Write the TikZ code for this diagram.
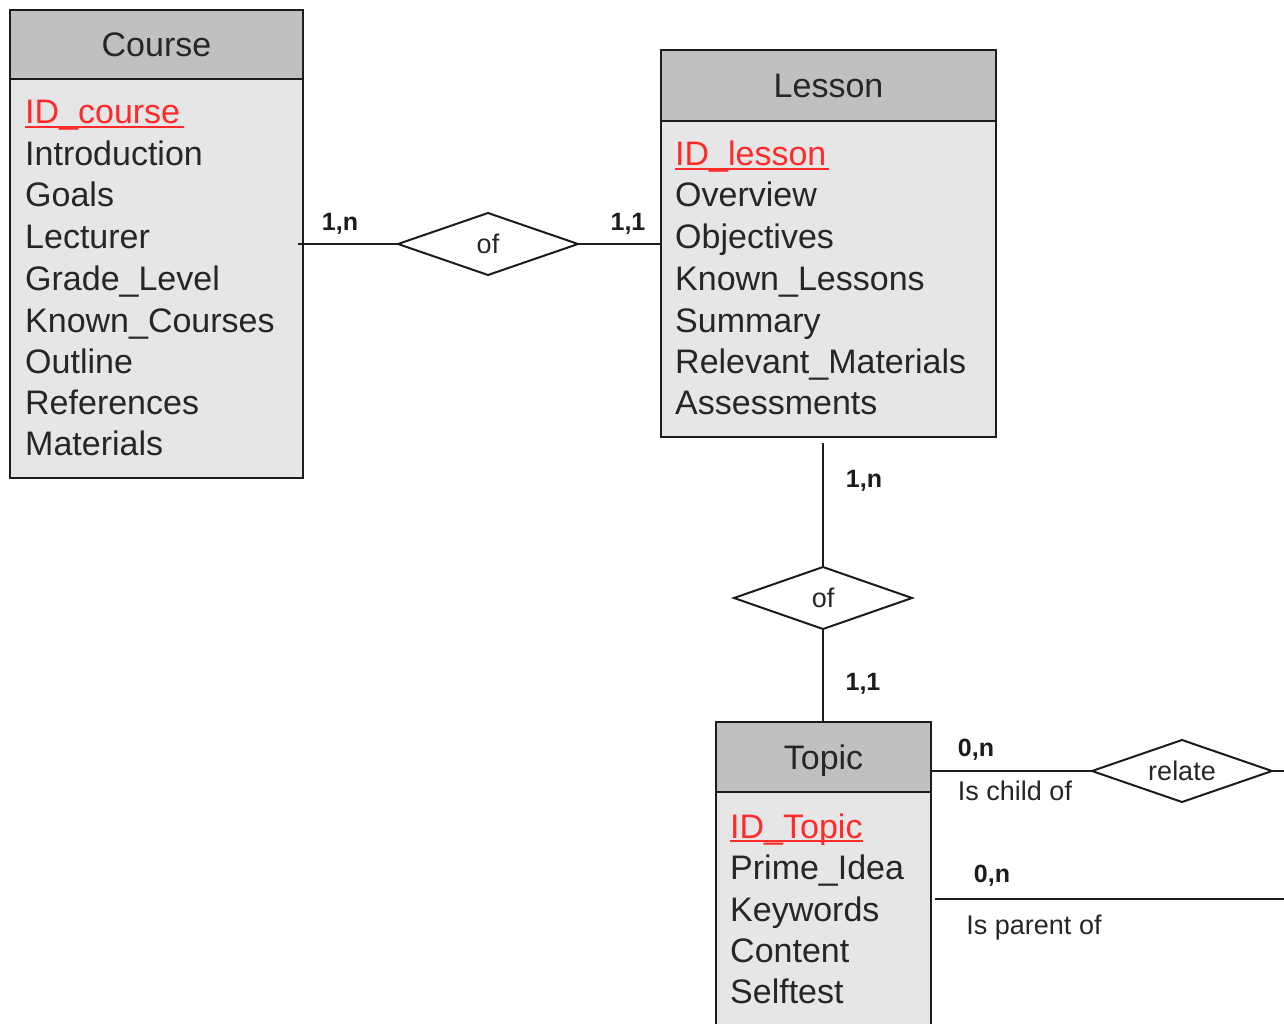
\documentclass[tikz,border=0pt]{standalone}
\usepackage{fontspec}
\setmainfont{Liberation Sans}
\usetikzlibrary{shapes.geometric}
\definecolor{hdr}{HTML}{C0C0C0}
\definecolor{bdy}{HTML}{E6E6E6}
\definecolor{ink}{HTML}{1C1C1C}
\definecolor{txt}{HTML}{262626}
\definecolor{keyred}{HTML}{FF2A2A}
\begin{document}
\begin{tikzpicture}[x=1pt,y=-1pt,
  boxframe/.style={draw=ink, line width=2.4pt, inner sep=0pt, outer sep=0pt, anchor=north west},
  hdrbox/.style={boxframe, fill=hdr, font=\fontsize{34}{40}\selectfont, text=txt, text height=24.5pt, text depth=0pt},
  bodybox/.style={boxframe, fill=bdy},
  attr/.style={anchor=base west, font=\fontsize{34}{40}\selectfont, text=txt, inner sep=0pt},
  keyattr/.style={attr, text=keyred},
  keyline/.style={draw=keyred, line width=2pt},
  rel/.style={diamond, aspect=2.9, draw=ink, line width=2pt, fill=white, inner sep=0pt, outer sep=0pt,
              font=\fontsize{27}{32}\selectfont, text=txt},
  card/.style={font=\bfseries\fontsize{25}{30}\selectfont, text=ink},
  role/.style={font=\fontsize{27}{32}\selectfont, text=txt},
  link/.style={draw=ink, line width=2pt}
]
\useasboundingbox[fill=white] (0,0) rectangle (1284,1024);

% ---------- Course ----------
\node[bodybox, minimum width=293pt, minimum height=399pt] (courseBody) at (10,79) {};
\node[hdrbox, minimum width=293pt, minimum height=69pt] (courseHdr) at (10,10) {Course};
\node[keyattr] (cA1) at (25,124) {ID\_course};
\draw[keyline] ([yshift=-3pt]cA1.base west) -- ([yshift=-3pt,xshift=4pt]cA1.base east);
\node[attr] (cA2) at (25,166) {Introduction};
\node[attr] (cA3) at (25,207) {Goals};
\node[attr] (cA4) at (25,249) {Lecturer};
\node[attr] (cA5) at (25,290) {Grade\_Level};
\node[attr] (cA6) at (25,332) {Known\_Courses};
\node[attr] (cA7) at (25,373) {Outline};
\node[attr] (cA8) at (25,414) {References};
\node[attr] (cA9) at (25,455) {Materials};

% ---------- Lesson ----------
\node[bodybox, minimum width=335pt, minimum height=316pt] (lessonBody) at (661,121) {};
\node[hdrbox, minimum width=335pt, minimum height=71pt] (lessonHdr) at (661,50) {Lesson};
\node[keyattr] (lA1) at (675,166) {ID\_lesson};
\draw[keyline] ([yshift=-3pt]lA1.base west) -- ([yshift=-3pt,xshift=2pt]lA1.base east);
\node[attr] (lA2) at (675,207) {Overview};
\node[attr] (lA3) at (675,249) {Objectives};
\node[attr] (lA4) at (675,290) {Known\_Lessons};
\node[attr] (lA5) at (675,332) {Summary};
\node[attr] (lA6) at (675,373) {Relevant\_Materials};
\node[attr] (lA7) at (675,414) {Assessments};

% ---------- Topic ----------
\node[bodybox, minimum width=215pt, minimum height=260pt] (topicBody) at (716,792) {};
\node[hdrbox, minimum width=215pt, minimum height=70pt] (topicHdr) at (716,722) {Topic};
\node[keyattr] (tA1) at (730,838) {ID\_Topic};
\draw[keyline] ([yshift=-3pt]tA1.base west) -- ([yshift=-3pt]tA1.base east);
\node[attr] (tA2) at (730,879) {Prime\_Idea};
\node[attr] (tA3) at (730,921) {Keywords};
\node[attr] (tA4) at (730,962) {Content};
\node[attr] (tA5) at (730,1003) {Selftest};

% ---------- relationships ----------
\node[rel, minimum width=180pt, minimum height=62pt] (of1) at (488,244) {of};
\node[rel, minimum width=178pt, minimum height=62pt] (of2) at (823,598) {of};
\node[rel, minimum width=180pt, minimum height=62pt] (relate) at (1182,771) {relate};

\coordinate (cOut) at (298,244);
\coordinate (rEdge) at (1290,771);
\coordinate (pStart) at (935,899);
\coordinate (pEnd) at (1290,899);

\draw[link] (cOut) -- (of1.west);
\draw[link] (of1.east) -- (of1.east -| lessonBody.west);
\draw[link, shorten >=6pt] (of2.north) -- (of2.north |- lessonBody.south);
\draw[link] (of2.south) -- (of2.south |- topicHdr.north);
\draw[link] (relate.west -| topicHdr.east) -- (relate.west);
\draw[link] (relate.east) -- (rEdge);
\draw[link] (pStart) -- (pEnd);

% ---------- labels ----------
\node[card] (k1) at (340,224) {1,n};
\node[card] (k2) at (628,224) {1,1};
\node[card] (k3) at (864,481) {1,n};
\node[card] (k4) at (863,684) {1,1};
\node[card] (k5) at (976,750) {0,n};
\node[card] (k6) at (992,876) {0,n};
\node[role] (r1) at (1015,791) {Is child of};
\node[role] (r2) at (1034,928) {Is parent of};
\end{tikzpicture}
\end{document}
